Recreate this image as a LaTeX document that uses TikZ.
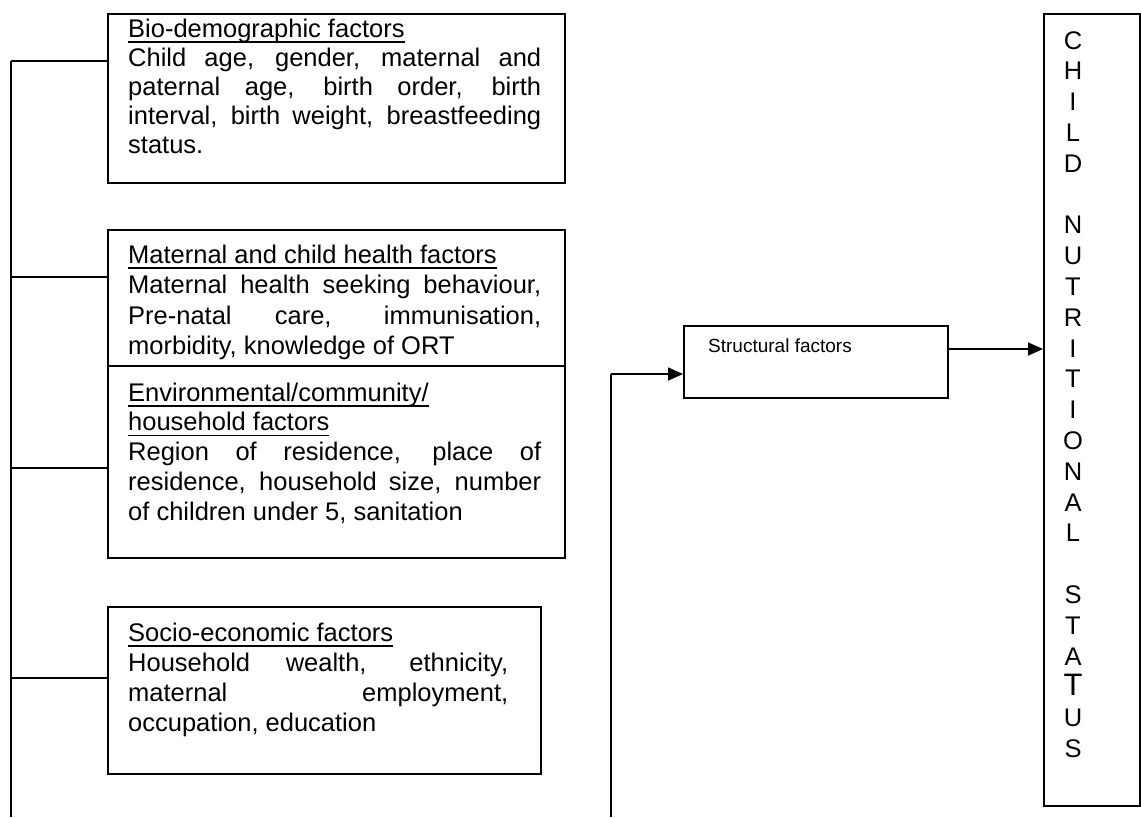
\documentclass[tikz,border=0pt]{standalone}
\usepackage{fontspec}
\setmainfont{Liberation Sans}
\usetikzlibrary{arrows.meta}
\hyphenpenalty=10000
\newcommand{\boxfont}[1]{\fontsize{25.5}{#1}\selectfont}
\newcommand{\ulh}[1]{\leavevmode\setbox0\hbox{#1}\rlap{\rule[-0.22em]{\wd0}{0.07em}}\box0}
\begin{document}
\begin{tikzpicture}[x=1pt,y=-1pt,
  box/.style={draw, line width=1.6pt, inner sep=0pt, anchor=north west},
  txt/.style={anchor=base west, inner sep=0pt},
  conn/.style={line width=1.6pt},
  arr/.style={line width=1.6pt, -{Triangle[length=15pt,width=13pt]}}]
\useasboundingbox (0,0) rectangle (1141,817);
% left column boxes
\node[box, minimum width=457pt, minimum height=169pt] (bio) at (107,13) {};
\node[box, minimum width=457pt, minimum height=136pt] (mat) at (107,229) {};
\node[box, minimum width=457pt, minimum height=192pt] (env) at (107,365) {};
\node[box, minimum width=433pt, minimum height=167pt] (soc) at (107,606) {};
% texts
\node[txt] (biot) at (128,37) {\parbox[t]{413pt}{\boxfont{29}
\ulh{Bio-demographic factors}\\
Child age, gender, maternal and\linebreak
paternal age, birth order, birth\linebreak
interval, birth weight, breastfeeding\linebreak
status.}};
\node[txt] (matt) at (128,263) {\parbox[t]{413pt}{\boxfont{30.6}
\ulh{Maternal and child health factors}\\
Maternal health seeking behaviour,\linebreak
Pre-natal care, immunisation,\linebreak
morbidity, knowledge of ORT}};
\node[txt] (envt) at (128,401) {\parbox[t]{413pt}{\boxfont{29.8}
\ulh{Environmental/community/}\\
\ulh{household factors}\\
Region of residence, place of\linebreak
residence, household size, number\linebreak
of children under 5, sanitation}};
\node[txt] (soct) at (128,641) {\parbox[t]{380pt}{\boxfont{30}
\ulh{Socio-economic factors}\\
Household wealth, ethnicity,\linebreak
maternal employment,\linebreak
occupation, education}};
% left trunk and branches
\coordinate (ltop) at (11,61);
\coordinate (lbot) at (11,817);
\coordinate (b2) at (11,277);
\coordinate (b3) at (11,468);
\coordinate (b4) at (11,678);
\draw[conn] (ltop) -- (lbot);
\draw[conn] (ltop) -- (ltop -| bio.west);
\draw[conn] (b2) -- (b2 -| mat.west);
\draw[conn] (b3) -- (b3 -| env.west);
\draw[conn] (b4) -- (b4 -| soc.west);
% structural factors
\node[box, minimum width=264pt, minimum height=72pt] (str) at (683,325) {};
\node[txt] (strt) at (708,352) {\fontsize{19}{23}\selectfont Structural factors};
% child nutritional status
\node[box, minimum width=96pt, minimum height=792pt] (cns) at (1043,13) {};
\node[anchor=base, inner sep=0pt] (cnst) at (1073,49) {\parbox[t]{40pt}{\centering\fontsize{25.5}{30.8}\selectfont
C\\H\\I\\L\\D\\\mbox{}\\N\\U\\T\\R\\I\\T\\I\\O\\N\\A\\L\\\mbox{}\\S\\T\\A\\{\fontsize{31}{30.8}\selectfont T}\\U\\S}};
% middle trunk
\coordinate (mbot) at (611,817);
\coordinate (mtop) at (611,374);
\draw[conn] (mbot) -- (mtop);
\draw[arr] (mtop) -- (mtop -| str.west);
\coordinate (sa) at (947,349);
\draw[arr] (str.east |- sa) -- (sa -| cns.west);
\end{tikzpicture}
\end{document}
